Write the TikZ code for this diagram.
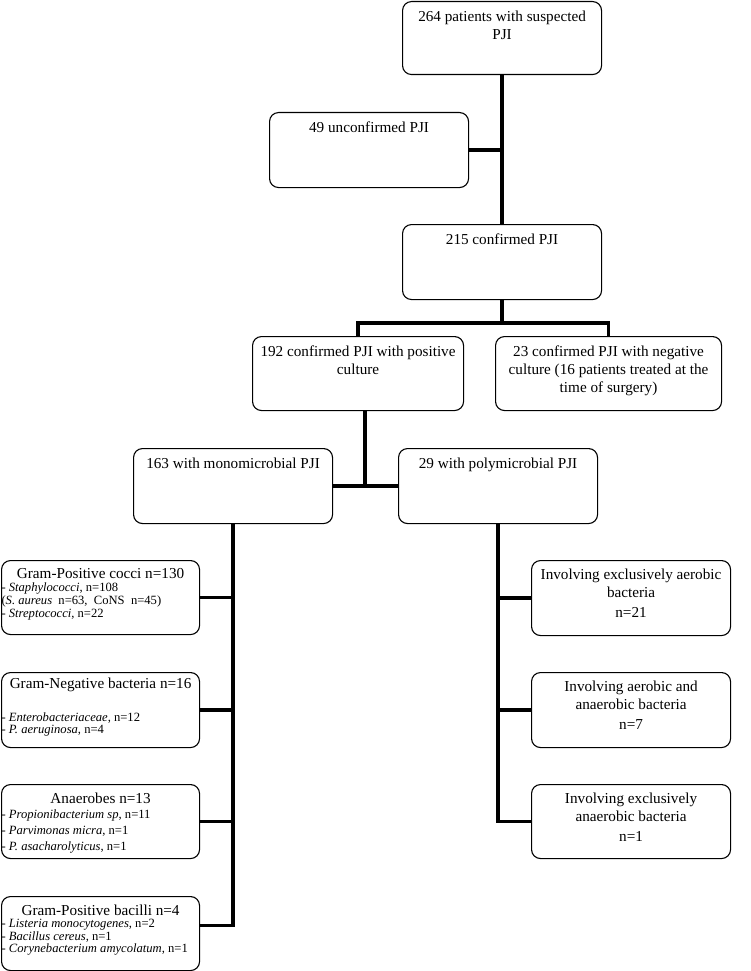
\documentclass[tikz,border=0pt]{standalone}
\usepackage{fontspec}
\setmainfont{Liberation Serif}
\usetikzlibrary{positioning, calc}

% box contents: text hangs from the top edge
\newcommand{\boxtext}[4][20pt]{\parbox[c][#3][t]{#2}{\centering\rule{0pt}{#1}#4}}
\newcommand{\itemfont}{\fontsize{12.6}{13}\selectfont}

\begin{document}
\begin{tikzpicture}[x=1pt, y=-1pt,
    box/.style={draw, rounded corners=9pt, line width=1.1pt, inner sep=0pt,
        anchor=north west, font=\fontsize{15.2}{18}\selectfont},
    link/.style={line width=3.6pt}]
    \useasboundingbox (0,0) rectangle (750,971);

    % top part
    \node[box] (top) at (402,1) {\boxtext{199pt}{73pt}{264 patients with suspected\\PJI}};
    \node[box] (unconf) at (269,112) {\boxtext{199pt}{75pt}{49 unconfirmed PJI}};
    \node[box] (conf) at (402,224) {\boxtext{199pt}{75pt}{215 confirmed PJI}};
    \node[box] (pos) at (252,336) {\boxtext{211pt}{74pt}{192 confirmed PJI with positive\\culture}};
    \node[box] (neg) at (495,336) {\boxtext{226pt}{74pt}{23 confirmed PJI with negative\\culture (16 patients treated at the\\time of surgery)}};
    \node[box] (mono) at (133,448) {\boxtext{199pt}{75pt}{163 with monomicrobial PJI}};
    \node[box] (poly) at (398,448) {\boxtext{199pt}{75pt}{29 with polymicrobial PJI}};

    % monomicrobial
    \node[box] (gpc) at (1,560) {\boxtext[18pt]{198pt}{74pt}{Gram-Positive cocci n=130\par
        \raggedright\itemfont - \textit{Staphylococci}, n=108\\
        (\textit{S. aureus}\ \ n=63,\ \ CoNS\ \ n=45)\\
        - \textit{Streptococci}, n=22}};
    \node[box] (gnb) at (1,672) {\boxtext[16pt]{198pt}{75pt}{Gram-Negative bacteria n=16\par
        \vspace{20pt}\raggedright\itemfont - \textit{Enterobacteriaceae}, n=12\\[-1pt]
        - \textit{P. aeruginosa}, n=4}};
    \node[box] (anaer) at (1,784) {\boxtext[19pt]{198pt}{74pt}{Anaerobes n=13\par
        \vspace{2pt}\raggedright\itemfont - \textit{Propionibacterium sp}, n=11\\[3pt]
        - \textit{Parvimonas micra}, n=1\\[3pt]
        - \textit{P. asacharolyticus}, n=1}};
    \node[box] (gpb) at (1,896) {\boxtext[19pt]{198pt}{74pt}{Gram-Positive bacilli n=4\par
        \vspace{-1pt}\raggedright\itemfont - \textit{Listeria monocytogenes}, n=2\\[-0.5pt]
        - \textit{Bacillus cereus}, n=1\\[-0.5pt]
        - \textit{Corynebacterium amycolatum}, n=1}};

    % polymicrobial
    \node[box] (aer) at (531,560) {\boxtext[19pt]{199pt}{75pt}{Involving exclusively aerobic\\bacteria\\[2pt]n=21}};
    \node[box] (mix) at (531,672) {\boxtext[19pt]{199pt}{75pt}{Involving aerobic and\\anaerobic bacteria\\[2pt]n=7}};
    \node[box] (anx) at (531,784) {\boxtext[19pt]{199pt}{74pt}{Involving exclusively\\anaerobic bacteria\\[2pt]n=1}};

    % connectors
    \draw[link] (top.south) -- (conf.north);
    \draw[link] (unconf.east) -- (unconf.east -| top.south);
    \draw[link] (conf.south) -- ++(0,23) coordinate (fork);
    \draw[link] (pos.north) |- (fork) -| (neg.north);
    \coordinate (split) at (365,486);
    \draw[link] (split |- pos.south) -- (split);
    \draw[link] (mono.east) -- (poly.west);
    \coordinate (gpbhook) at ($(gpb.east)+(0,-8)$);
    \draw[link] (mono.south) |- (gpbhook);
    \foreach \b in {gpc,gnb,anaer}
        \draw[link] (\b.east) -- (\b.east -| mono.south);
    \draw[link] (poly.south) |- (anx.west);
    \foreach \b in {aer,mix}
        \draw[link] (\b.west) -- (\b.west -| poly.south);
\end{tikzpicture}
\end{document}
